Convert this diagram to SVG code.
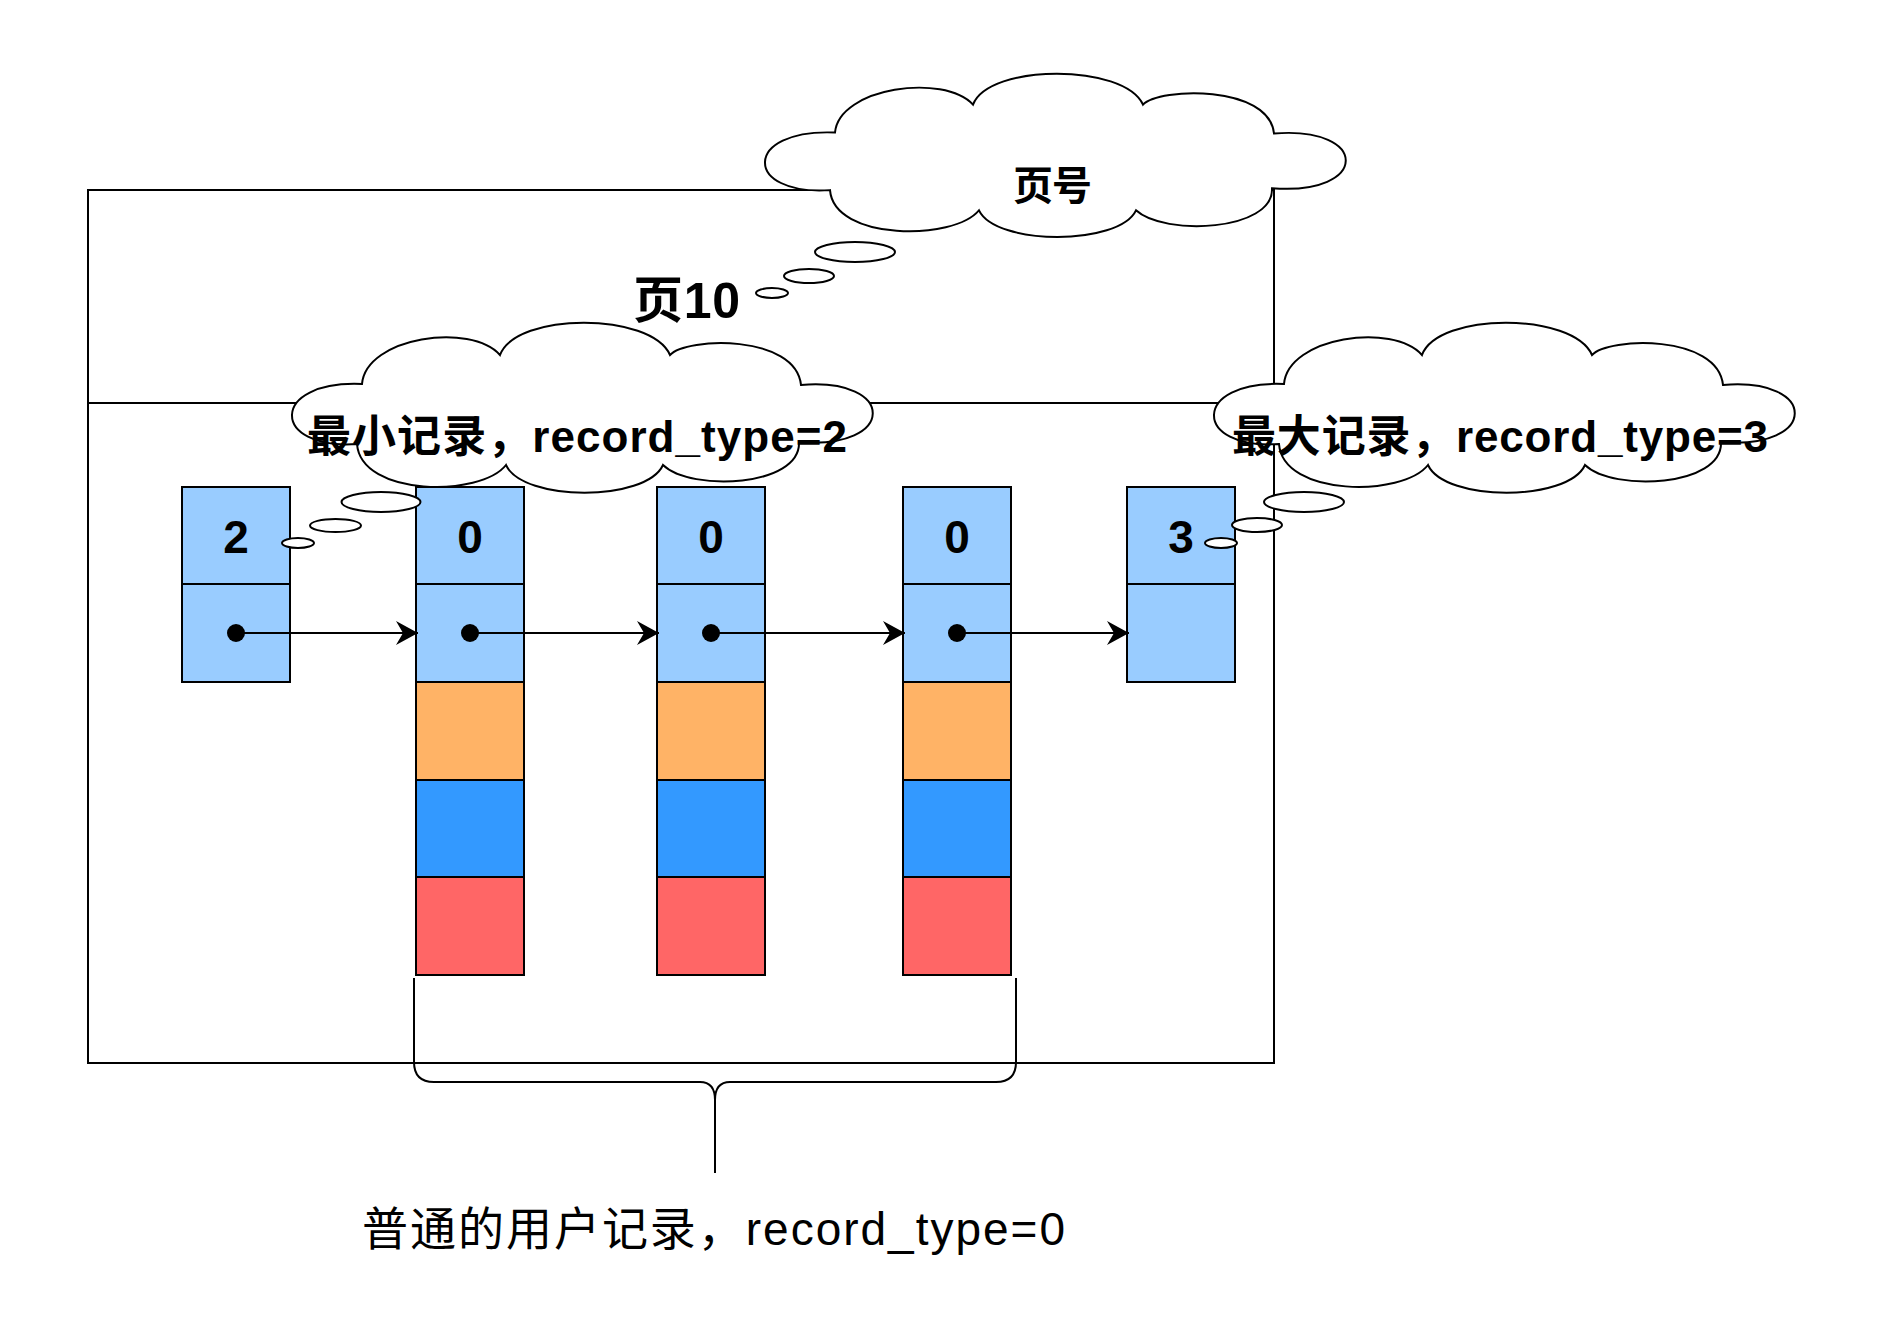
<svg xmlns="http://www.w3.org/2000/svg" xmlns:xlink="http://www.w3.org/1999/xlink" width="1896" height="1326" viewBox="0 0 1896 1326">
<style>
.ln{fill:none;stroke:#000;stroke-width:2}
.c1{fill:#99CCFF;stroke:#000;stroke-width:2}
.c2{fill:#FFB366;stroke:#000;stroke-width:2}
.c3{fill:#3399FF;stroke:#000;stroke-width:2}
.c4{fill:#FF6666;stroke:#000;stroke-width:2}
.cl{fill:#fff;stroke:#000;stroke-width:2}
.num{font-family:"Liberation Sans","Noto Sans CJK SC",sans-serif;font-weight:bold;font-size:46px;text-anchor:middle;fill:#000}
.lbl{font-family:"Liberation Sans","Noto Sans CJK SC",sans-serif;font-weight:bold;fill:#000}
.lbn{font-family:"Liberation Sans","Noto Sans CJK SC",sans-serif;font-weight:normal;fill:#000}
.ar{fill:none;stroke:#000;stroke-width:2;marker-start:url(#dot);marker-end:url(#arr)}
</style>
<defs>
<marker id="arr" markerUnits="userSpaceOnUse" markerWidth="24" markerHeight="26" refX="22" refY="12" orient="auto" overflow="visible">
<path d="M0,0 L22,12 L0,24 L7,12 Z" fill="#000"/>
</marker>
<marker id="dot" markerUnits="userSpaceOnUse" markerWidth="20" markerHeight="20" refX="9" refY="9" orient="auto" overflow="visible">
<circle cx="9" cy="9" r="9" fill="#000"/>
</marker>
<path id="cloud" d="M71,62 C75,15 180,0 209,33 C225,-10 360,-10 379,33 C395,15 505,12 510,63 C606,55 606,128 508,120 C510,165 400,170 372,143 C355,180 232,180 215,143 C190,175 70,175 66,122 C-21,128 -22,58 71,62 Z"/>
</defs>
<rect width="1896" height="1326" fill="#fff"/>
<g id="page">
<rect class="ln" x="88" y="190" width="1186" height="873"/>
<line class="ln" x1="88" y1="403" x2="1274" y2="403"/>
</g>
<g id="rec-min">
<rect class="c1" x="182" y="487" width="108" height="97"/>
<rect class="c1" x="182" y="584" width="108" height="98"/>
<text class="num" x="236" y="553">2</text>
</g>
<g id="rec-1">
<rect class="c1" x="416" y="487" width="108" height="97"/>
<rect class="c1" x="416" y="584" width="108" height="98"/>
<rect class="c2" x="416" y="682" width="108" height="98"/>
<rect class="c3" x="416" y="780" width="108" height="97"/>
<rect class="c4" x="416" y="877" width="108" height="98"/>
<text class="num" x="470" y="553">0</text>
</g>
<g id="rec-2">
<rect class="c1" x="657" y="487" width="108" height="97"/>
<rect class="c1" x="657" y="584" width="108" height="98"/>
<rect class="c2" x="657" y="682" width="108" height="98"/>
<rect class="c3" x="657" y="780" width="108" height="97"/>
<rect class="c4" x="657" y="877" width="108" height="98"/>
<text class="num" x="711" y="553">0</text>
</g>
<g id="rec-3">
<rect class="c1" x="903" y="487" width="108" height="97"/>
<rect class="c1" x="903" y="584" width="108" height="98"/>
<rect class="c2" x="903" y="682" width="108" height="98"/>
<rect class="c3" x="903" y="780" width="108" height="97"/>
<rect class="c4" x="903" y="877" width="108" height="98"/>
<text class="num" x="957" y="553">0</text>
</g>
<g id="rec-max">
<rect class="c1" x="1127" y="487" width="108" height="97"/>
<rect class="c1" x="1127" y="584" width="108" height="98"/>
<text class="num" x="1181" y="553">3</text>
</g>
<g id="connectors">
<path class="ar" d="M236,633 L418,633"/>
<path class="ar" d="M470,633 L659,633"/>
<path class="ar" d="M711,633 L905,633"/>
<path class="ar" d="M957,633 L1129,633"/>
</g>
<g id="brace">
<path class="ln" d="M414,978 L414,1062 Q414,1082 434,1082 L700,1082 Q715,1082 715,1100 Q715,1082 730,1082 L996,1082 Q1016,1082 1016,1062 L1016,978"/>
<line class="ln" x1="715" y1="1100" x2="715" y2="1173"/>
</g>
<g id="cloud-page">
<use xlink:href="#cloud" href="#cloud" class="cl" transform="translate(764,73) scale(1,0.96)"/>
<ellipse class="cl" cx="855" cy="252" rx="40" ry="10"/>
<ellipse class="cl" cx="809" cy="276" rx="25" ry="7"/>
<ellipse class="cl" cx="772" cy="293" rx="16" ry="5"/>
<text class="lbl" x="1013" y="200" font-size="40" textLength="79" lengthAdjust="spacing">页号</text>
</g>
<g id="cloud-min">
<use xlink:href="#cloud" href="#cloud" class="cl" transform="translate(291,322)"/>
<ellipse class="cl" cx="381" cy="502" rx="39.5" ry="10"/>
<ellipse class="cl" cx="335.5" cy="525.5" rx="25.5" ry="6.5"/>
<ellipse class="cl" cx="298" cy="543" rx="16" ry="5"/>
<text class="lbl" x="307" y="452" font-size="44" textLength="540" lengthAdjust="spacing">最小记录，record_type=2</text>
</g>
<g id="cloud-max">
<use xlink:href="#cloud" href="#cloud" class="cl" transform="translate(1213,322)"/>
<ellipse class="cl" cx="1304" cy="502" rx="40" ry="10"/>
<ellipse class="cl" cx="1257" cy="525" rx="25" ry="7"/>
<ellipse class="cl" cx="1221" cy="543" rx="16" ry="5"/>
<text class="lbl" x="1232" y="452" font-size="44" textLength="536" lengthAdjust="spacing">最大记录，record_type=3</text>
</g>
<g id="page-label">
<text class="lbl" x="633" y="318" font-size="50" textLength="107" lengthAdjust="spacing">页10</text>
</g>
<g id="user-label">
<text class="lbn" x="362" y="1245" font-size="46" textLength="703" lengthAdjust="spacing">普通的用户记录，record_type=0</text>
</g>
</svg>
